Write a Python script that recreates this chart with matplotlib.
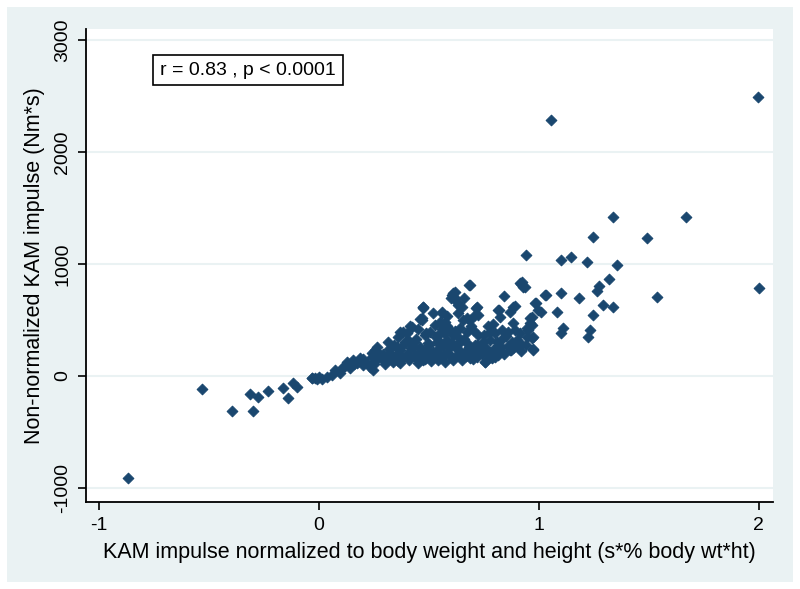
import matplotlib
matplotlib.use('Agg')
import matplotlib.pyplot as plt
from matplotlib.patches import Rectangle

plt.rcParams['font.family'] = ['Liberation Sans', 'DejaVu Sans']

# KAM impulse normalized (x) vs non-normalized (y)
kam_norm = [
    -0.868, -0.532, -0.395, -0.300, -0.314, -0.277, -0.232, -0.164, -0.141, -0.118,
    -0.100, -0.032, -0.018, -0.030, -0.010, 0.000, 0.014, 0.036, 0.059, 0.073,
    0.095, 0.109, 0.127, 0.155, 0.173, 0.186, 0.232, 0.240, 0.255, 0.264,
    0.277, 0.300, 0.323, 0.336, 0.355, 0.360, 0.368, 0.382, 0.405, 0.414,
    0.427, 0.450, 0.459, 0.459, 0.471, 0.486, 0.490, 0.680, 0.920, 0.927,
    1.027, 0.610, 0.618, 0.632, 0.841, 0.982, 0.995, 0.890, 0.868, 0.473,
    0.468, 0.559, 0.582, 0.573, 0.718, 0.709, 0.655, 0.686, 0.814, 0.823,
    0.959, 0.968, 0.950, 0.527, 0.505, 0.482, 0.541, 0.595, 0.610, 0.641,
    0.673, 0.700, 0.723, 0.777, 0.800, 0.832, 0.859, 0.890, 0.914, 0.945,
    0.968, 0.495, 0.536, 0.564, 0.605, 0.641, 0.673, 0.709, 0.745, 0.777,
    0.809, 0.836, 0.877, 0.914, 0.482, 0.518, 0.550, 0.586, 0.627, 0.664,
    0.700, 0.732, 0.764, 0.791, 0.823, 0.868, 0.905, 0.973, 0.473, 0.505,
    0.541, 0.573, 0.610, 0.650, 0.686, 0.718, 0.755, 0.786, 0.814, 1.336,
    1.245, 1.490, 0.941, 1.100, 1.145, 1.218, 1.355, 0.923, 0.936, 1.318,
    1.273, 1.264, 1.536, 1.032, 1.100, 1.182, 0.986, 1.009, 1.082, 1.291,
    1.336, 1.245, 0.968, 0.959, 0.945, 1.109, 1.100, 1.232, 1.223, 0.973,
    0.973, 1.668, 1.055, 1.995, 2.000, 0.605, 0.618, 0.627, 0.686, 0.473,
    0.559, 0.714, 0.468, 0.673, 0.723, 0.818, 0.882, 0.914, 0.914, 0.873,
    0.755, 0.800, 0.423, 0.368, 0.314, 0.264, 0.245, 0.120, 0.140, 0.160,
    0.180, 0.200, 0.200, 0.220, 0.240, 0.250, 0.260, 0.280, 0.290, 0.300,
    0.310, 0.320, 0.330, 0.340, 0.350, 0.360, 0.370, 0.380, 0.390, 0.400,
    0.410, 0.420, 0.430, 0.440, 0.450, 0.460, 0.470, 0.480, 0.490, 0.500,
    0.510, 0.520, 0.530, 0.540, 0.550, 0.560, 0.570, 0.580, 0.590, 0.600,
    0.620, 0.630, 0.640, 0.660, 0.670, 0.680, 0.690, 0.700, 0.720, 0.740,
    0.750, 0.760, 0.780, 0.790, 0.800, 0.820, 0.840, 0.850, 0.860, 0.880,
    0.900, 0.920, 0.940, 0.520, 0.550, 0.580, 0.630, 0.650, 0.660, 0.600,
    0.450, 0.400, 0.430, 0.380, 0.550, 0.620, 0.570, 0.770, 0.880,
]
kam_raw = [
    -911, -116, -312, -312, -161, -188, -134, -107, -196, -63,
    -98, -18, -18, -20, -30, -10, -27, -9, 9, 54,
    27, 80, 125, 143, 116, 161, 80, 205, 232, 259,
    188, 143, 205, 125, 259, 348, 116, 393, 321, 446,
    259, 205, 143, 509, 619, 384, 170, 812, 821, 795,
    723, 741, 696, 634, 714, 652, 589, 625, 571, 616,
    518, 571, 536, 482, 616, 545, 500, 500, 589, 527,
    518, 455, 411, 455, 393, 366, 366, 411, 366, 429,
    393, 411, 366, 393, 384, 411, 393, 411, 384, 348,
    339, 295, 304, 277, 295, 304, 295, 277, 304, 321,
    304, 339, 304, 295, 205, 214, 188, 205, 188, 214,
    205, 232, 214, 232, 250, 232, 259, 241, 143, 161,
    143, 125, 143, 143, 161, 170, 125, 161, 188, 1420,
    1241, 1232, 1080, 1036, 1063, 1018, 991, 839, 795, 866,
    804, 759, 705, 723, 741, 696, 652, 571, 571, 634,
    616, 545, 527, 473, 429, 429, 384, 411, 348, 348,
    232, 1420, 2286, 2491, 786, 723, 750, 661, 812, 607,
    562, 607, 500, 518, 545, 589, 616, 277, 830, 232,
    125, 170, 438, 393, 304, 214, 54, 90, 70, 110,
    130, 100, 150, 120, 170, 110, 140, 160, 200, 110,
    170, 240, 150, 280, 190, 130, 230, 160, 300, 200,
    140, 250, 180, 330, 120, 260, 190, 150, 230, 280,
    130, 180, 350, 240, 160, 420, 200, 320, 250, 170,
    260, 350, 220, 330, 180, 260, 450, 150, 280, 200,
    370, 250, 170, 460, 230, 280, 200, 360, 270, 250,
    320, 220, 280, 560, 480, 450, 560, 620, 700, 700,
    420, 380, 300, 280, 300, 400, 380, 450, 470,
]

x_ticks = [-1, 0, 1, 2]
y_ticks = [-1000, 0, 1000, 2000, 3000]
annot = 'r = 0.83 , p < 0.0001'

bg = '#EAF2F3'
navy = '#1A476F'

fig = plt.figure(figsize=(8, 5.89), dpi=100)
fig.patch.set_facecolor('white')
fig.patches.append(Rectangle((7 / 800, 7 / 589), 786 / 800, 575 / 589,
                             transform=fig.transFigure, facecolor=bg,
                             edgecolor='none', zorder=-10))

ax = fig.add_axes([86 / 800, 1 - 502 / 589, 687 / 800, 473 / 589])
ax.set_facecolor('white')

ax.scatter(kam_norm, kam_raw, marker='D', s=30, color=navy,
           edgecolors=navy, linewidths=0.7, zorder=3)

ax.set_xlim(-1.059, 2.064)
ax.set_ylim(-1125, 3098)
ax.set_xticks(x_ticks)
ax.set_yticks(y_ticks)
ax.set_xticklabels([str(t) for t in x_ticks], fontsize=14)
ax.set_yticklabels([str(t) for t in y_ticks], fontsize=14,
                   rotation=90, va='center')

ax.grid(axis='y', color=bg, linewidth=1.5, zorder=0)
ax.set_axisbelow(True)

for s in ['top', 'right']:
    ax.spines[s].set_visible(False)
for s in ['left', 'bottom']:
    ax.spines[s].set_linewidth(1.3)
    ax.spines[s].set_color('black')
ax.tick_params(direction='out', length=5.5, width=1.2, colors='black', pad=5)

ax.set_xlabel('KAM impulse normalized to body weight and height (s*% body wt*ht)',
              fontsize=15.5, labelpad=6)
ax.set_ylabel('Non-normalized KAM impulse (Nm*s)', fontsize=15.5, labelpad=7)

ax.text(0.108, 0.913, annot, transform=ax.transAxes, fontsize=14,
        va='center', ha='left',
        bbox=dict(boxstyle='square,pad=0.35', facecolor='white',
                  edgecolor='black', linewidth=1.2))

fig.savefig('out.png', dpi=100)
